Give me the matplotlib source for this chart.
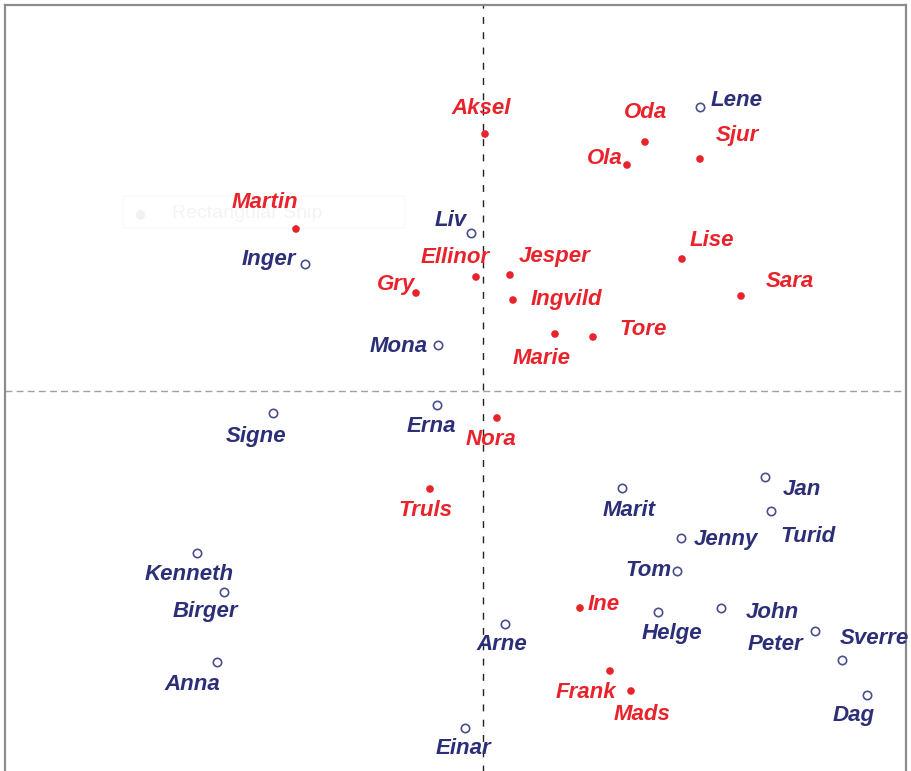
import matplotlib
matplotlib.use("Agg")
import matplotlib.pyplot as plt
from matplotlib.patches import FancyBboxPatch

# Scores (dimension 1, dimension 2)
red_names = ["Aksel", "Oda", "Sjur", "Ola", "Martin", "Lise", "Ellinor", "Jesper", "Gry",
             "Ingvild", "Sara", "Marie", "Tore", "Nora", "Truls", "Ine", "Frank", "Mads"]
red_x = [0.02, 1.62, 2.17, 1.44, -1.87, 1.99, -0.07, 0.27, -0.67,
         0.30, 2.58, 0.72, 1.10, 0.14, -0.53, 0.97, 1.27, 1.48]
red_y = [2.57, 2.49, 2.32, 2.26, 1.62, 1.32, 1.14, 1.16, 0.98,
         0.91, 0.95, 0.57, 0.54, -0.27, -0.98, -2.17, -2.80, -3.00]

blue_names = ["Lene", "Liv", "Inger", "Mona", "Signe", "Erna", "Marit", "Jan", "Turid",
              "Jenny", "Tom", "Kenneth", "Birger", "Helge", "John", "Arne", "Peter",
              "Sverre", "Anna", "Dag", "Einar"]
blue_x = [2.17, -0.12, -1.78, -0.45, -2.10, -0.46, 1.39, 2.82, 2.88,
          1.98, 1.94, -2.86, -2.59, 1.75, 2.38, 0.22, 3.32,
          3.59, -2.66, 3.84, -0.18]
blue_y = [2.84, 1.58, 1.27, 0.46, -0.22, -0.14, -0.97, -0.86, -1.20,
          -1.47, -1.80, -1.62, -2.01, -2.21, -2.17, -2.33, -2.40,
          -2.69, -2.71, -3.04, -3.37]

# label offsets in pixels (dx, dy) relative to the point
red_off = [(-4, 28), (1, 32), (37, 26), (-22, 9), (-31, 29), (30, 21), (-21, 22), (45, 21), (-20, 11),
           (53, 3), (49, 17), (-13, -22), (50, 10), (-6, -19), (-5, -19), (24, 6), (-24, -19), (11, -22)]
blue_off = [(37, 9), (-20, 15), (-36, 7), (-39, 1), (-17, -21), (-6, -19), (7, -20), (37, -10), (37, -24),
            (45, 0), (-29, 3), (-8, -20), (-19, -17), (14, -20), (51, -2), (-3, -18), (-40, -12),
            (32, 23), (-25, -21), (-13, -19), (-2, -18)]

RED = "#e8232b"
BLUE = "#2c2f78"
BLUE_MK = "#4a4e8e"

fig = plt.figure(figsize=(9.12, 7.71), dpi=100)
W, H = 912, 771
left_px, right_px, top_px, bot_px = 5, 906, 5, 800
ax = fig.add_axes([left_px / W, (H - bot_px) / H, (right_px - left_px) / W, (bot_px - top_px) / H])
ax.set_xlim((left_px - 483) / 100, (right_px - 483) / 100)
ax.set_ylim((391 - bot_px) / 100, (391 - top_px) / 100)
ax.set_xticks([])
ax.set_yticks([])
for s in ["top", "left", "right"]:
    ax.spines[s].set_color("#8c8c8c")
    ax.spines[s].set_linewidth(1.6)
ax.spines["bottom"].set_visible(False)

ax.axvline(0, color="#222222", lw=1.0, ls=(0, (5, 6)), zorder=1)
ax.axhline(0, color="#a0a0a0", lw=1.0, ls=(0, (5, 3)), zorder=1)

ax.scatter(red_x, red_y, s=30, color=RED, edgecolors="none", zorder=3)
ax.scatter(blue_x, blue_y, s=36, facecolors="white", edgecolors=BLUE_MK, linewidths=1.2, zorder=3)

font = dict(family="Liberation Sans", fontsize=16, fontweight="bold", fontstyle="italic")
for n, x, y, (dx, dy) in zip(red_names, red_x, red_y, red_off):
    ax.annotate(n, (x, y), xytext=(dx, dy - 2), textcoords="offset pixels",
                ha="center", va="center", color=RED, zorder=5, **font)
for n, x, y, (dx, dy) in zip(blue_names, blue_x, blue_y, blue_off):
    ax.annotate(n, (x, y), xytext=(dx, dy - 2), textcoords="offset pixels",
                ha="center", va="center", color=BLUE, zorder=5, **font)

# very faint screen-capture watermark
wm = FancyBboxPatch((123 / W, (H - 228) / H), 282 / W, 32 / H, boxstyle="round,pad=0,rounding_size=0.004",
                    transform=fig.transFigure, facecolor="none", edgecolor="#f7f8f9", lw=1.0, zorder=0.5)
ax.add_artist(wm)
ax.text(172 / W, (H - 214) / H, "Rectangular Snip", fontsize=14, color="#f3f4f6",
        family="Liberation Sans", va="center", ha="left", zorder=0.5, transform=fig.transFigure)
ax.text(140 / W, (H - 214) / H, "\u25cf", fontsize=9, color="#f1f2f4", va="center", ha="center",
        zorder=0.5, transform=fig.transFigure)

fig.savefig("out.png", dpi=100)
